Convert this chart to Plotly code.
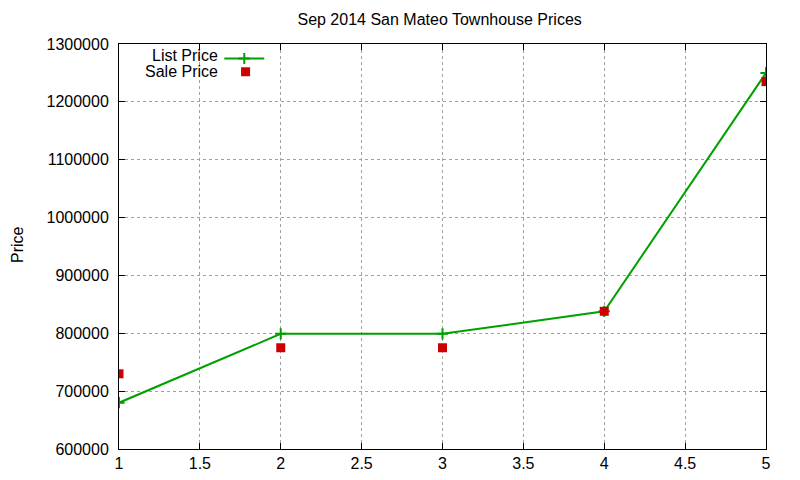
import plotly.graph_objects as go

# listing number (1..5) and prices
listing = [1, 2, 3, 4, 5]
list_price = [680000, 799000, 799000, 838000, 1250000]
sale_price = [730000, 775000, 775000, 838000, 1235000]

x_ticks = [1, 1.5, 2, 2.5, 3, 3.5, 4, 4.5, 5]
x_tick_text = ["1", "1.5", "2", "2.5", "3", "3.5", "4", "4.5", "5"]
y_ticks = [600000, 700000, 800000, 900000, 1000000, 1100000, 1200000, 1300000]
series_names = ["List Price", "Sale Price"]

fig = go.Figure()
# names stay blank in the legend; labels are put left of the keys like gnuplot does
fig.add_trace(go.Scatter(
    x=listing, y=list_price, name=" ", mode="lines+markers",
    line=dict(color="#00a000", width=2), legend="legend",
    marker=dict(symbol="cross-thin", size=8, line=dict(color="#00a000", width=2)),
))
fig.add_trace(go.Scatter(
    x=listing, y=sale_price, name=" ", mode="markers", legend="legend2",
    marker=dict(symbol="square", size=9, color="#cc0000"),
))

axis_common = dict(
    showline=True, linecolor="black", linewidth=1, mirror="ticks",
    ticks="inside", ticklen=6, tickcolor="black", automargin=False,
    showgrid=True, gridcolor="#a0a0a0", griddash="dot", gridwidth=1,
    zeroline=False, tickfont=dict(size=16, color="black"),
)

fig.update_xaxes(range=[1, 5], tickvals=x_ticks, ticktext=x_tick_text, **axis_common)
fig.update_yaxes(range=[600000, 1300000], tickvals=y_ticks, tickformat="d",
                 ticklabelstandoff=6, **axis_common)

# y axis label (standoff is ignored without automargin, so place it by hand)
fig.add_annotation(text="Price", xref="paper", yref="paper", x=-0.156, y=0.504,
                   xanchor="center", yanchor="middle", textangle=-90, showarrow=False,
                   font=dict(size=16, color="black"))

for name, ypos in zip(series_names, [0.971, 0.933]):
    fig.add_annotation(text=name, xref="paper", yref="paper", x=0.156, y=ypos,
                       xanchor="right", yanchor="middle", showarrow=False,
                       font=dict(size=16, color="black"))

legend_common = dict(xanchor="left", yanchor="top", bgcolor="rgba(0,0,0,0)",
                     font=dict(size=9), tracegroupgap=0, itemwidth=40)

fig.update_layout(
    width=792, height=472,
    margin=dict(l=111, r=34, t=36, b=31),
    paper_bgcolor="white", plot_bgcolor="white",
    font=dict(family="Liberation Sans, Arial, sans-serif", size=16, color="black"),
    title=dict(text="Sep 2014 San Mateo Townhouse Prices", x=0.545, xanchor="center",
               y=0.975, yanchor="middle", font=dict(size=16)),
    legend=dict(x=0.155, y=1.0, **legend_common),
    legend2=dict(x=0.157, y=0.967, **legend_common),
    showlegend=True,
)

fig.write_html("out.html")
